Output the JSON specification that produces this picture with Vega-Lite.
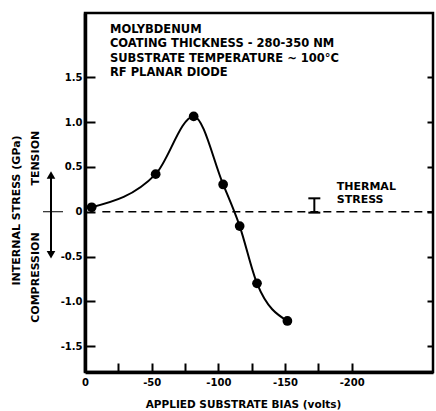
{
  "$schema": "https://vega.github.io/schema/vega-lite/v6.json",
  "width": 348,
  "height": 359,
  "autosize": "none",
  "padding": {"left": 85, "top": 13, "right": 3, "bottom": 39},
  "background": "white",
  "config": {
    "font": "DejaVu Sans",
    "view": {"stroke": "black", "strokeWidth": 2.5},
    "axis": {
      "labelFont": "DejaVu Sans",
      "labelFontWeight": "bold",
      "labelColor": "black",
      "titleFont": "DejaVu Sans",
      "titleFontWeight": "bold",
      "titleColor": "black",
      "grid": false,
      "domainColor": "black",
      "tickColor": "black"
    }
  },
  "datasets": {
    "measured": [
      {"bias": -5, "stress": 0.05},
      {"bias": -53, "stress": 0.42},
      {"bias": -81.5, "stress": 1.065},
      {"bias": -103.6, "stress": 0.305},
      {"bias": -116, "stress": -0.16},
      {"bias": -129, "stress": -0.8},
      {"bias": -151.8, "stress": -1.22}
    ],
    "zero": [{"bias": -13, "bias2": -261, "stress": 0}],
    "thermal": [{"bias": -172, "stress": 0.15, "stress2": -0.01}],
    "thermalEnds": [{"bias": -172, "stress": 0.15}, {"bias": -172, "stress": -0.01}],
    "notes": [
      {"bias": -18.7, "stress": 1.993, "label": "MOLYBDENUM"},
      {"bias": -18.7, "stress": 1.837, "label": "COATING THICKNESS - 280-350 NM"},
      {"bias": -18.7, "stress": 1.67, "label": "SUBSTRATE TEMPERATURE ~ 100°C"},
      {"bias": -18.7, "stress": 1.513, "label": "RF PLANAR DIODE"}
    ],
    "thermalText": [
      {"bias": -188.8, "stress": 0.241, "label": "THERMAL"},
      {"bias": -188.8, "stress": 0.096, "label": "STRESS"}
    ],
    "sideText": [
      {"bias": 36.7, "stress": 0.598, "label": "TENSION"},
      {"bias": 36.7, "stress": -0.735, "label": "COMPRESSION"}
    ],
    "arrow": [{"bias": 25.5, "stress": 0.4, "stress2": -0.47}],
    "arrowTop": [{"bias": 25.5, "stress": 0.41}],
    "arrowBottom": [{"bias": 25.5, "stress": -0.48}],
    "crossbar": [{"bias": 31.5, "bias2": 16.5, "stress": 0}]
  },
  "resolve": {"axis": {"y": "independent"}},
  "layer": [
    {
      "data": {"name": "measured"},
      "mark": {"type": "line", "interpolate": "monotone", "color": "black", "strokeWidth": 2},
      "encoding": {
        "x": {
          "field": "bias", "type": "quantitative",
          "scale": {"domain": [0, -261], "nice": false, "zero": false},
          "axis": {
            "values": [0, -25, -50, -75, -100, -125, -150, -175, -200],
            "tickSize": -9, "tickWidth": 2, "labelPadding": 14,
            "labelExpr": "datum.value % 50 === 0 ? ('' + datum.value) : ''",
            "labelFontSize": 10, "labelFlush": false,
            "domainWidth": 3.5,
            "title": "APPLIED SUBSTRATE BIAS (volts)",
            "titleFontSize": 10.5, "titleX": 158, "titleY": 27,
            "titleBaseline": "top", "titleAlign": "center"
          }
        },
        "y": {
          "field": "stress", "type": "quantitative",
          "scale": {"domain": [-1.79, 2.22], "nice": false, "zero": false},
          "axis": {
            "orient": "left",
            "values": [-1.5, -1, -0.5, 0, 0.5, 1, 1.5],
            "tickSize": -10, "tickWidth": 2, "labelPadding": 13,
            "labelExpr": "datum.value === 0 ? '0' : ((datum.value < 0 ? '-' : '') + format(abs(datum.value), '.1f'))",
            "labelFontSize": 10, "labelFlush": false,
            "domainWidth": 3.5,
            "title": "INTERNAL STRESS (GPa)",
            "titleFontSize": 11, "titleX": -69, "titleY": 197,
            "titleAngle": 270, "titleAlign": "center", "titleBaseline": "middle"
          }
        }
      }
    },
    {
      "data": {"name": "measured"},
      "mark": {"type": "circle", "size": 95, "color": "black", "opacity": 1},
      "encoding": {
        "x": {"field": "bias", "type": "quantitative"},
        "y": {
          "field": "stress", "type": "quantitative",
          "axis": {
            "orient": "right",
            "values": [-1.5, -1, -0.5, 0, 0.5, 1, 1.5],
            "tickSize": -6, "tickWidth": 2, "labels": false, "domain": false, "title": null
          }
        }
      }
    },
    {
      "data": {"name": "zero"},
      "mark": {"type": "rule", "color": "black", "strokeWidth": 1.6, "strokeDash": [8, 5]},
      "encoding": {
        "x": {"field": "bias", "type": "quantitative"},
        "x2": {"field": "bias2"},
        "y": {"field": "stress", "type": "quantitative", "axis": null}
      }
    },
    {
      "data": {"name": "thermal"},
      "mark": {"type": "rule", "color": "black", "strokeWidth": 2},
      "encoding": {
        "x": {"field": "bias", "type": "quantitative"},
        "y": {"field": "stress", "type": "quantitative", "axis": null},
        "y2": {"field": "stress2"}
      }
    },
    {
      "data": {"name": "thermalEnds"},
      "mark": {"type": "tick", "orient": "horizontal", "color": "black", "size": 12, "thickness": 2, "opacity": 1},
      "encoding": {
        "x": {"field": "bias", "type": "quantitative"},
        "y": {"field": "stress", "type": "quantitative", "axis": null}
      }
    },
    {
      "data": {"name": "notes"},
      "mark": {"type": "text", "align": "left", "baseline": "alphabetic", "fontSize": 11.5, "fontWeight": "bold", "color": "black", "font": "DejaVu Sans"},
      "encoding": {
        "x": {"field": "bias", "type": "quantitative"},
        "y": {"field": "stress", "type": "quantitative", "axis": null},
        "text": {"field": "label"}
      }
    },
    {
      "data": {"name": "thermalText"},
      "mark": {"type": "text", "align": "left", "baseline": "alphabetic", "fontSize": 11, "fontWeight": "bold", "color": "black", "font": "DejaVu Sans"},
      "encoding": {
        "x": {"field": "bias", "type": "quantitative"},
        "y": {"field": "stress", "type": "quantitative", "axis": null},
        "text": {"field": "label"}
      }
    },
    {
      "data": {"name": "sideText"},
      "mark": {"type": "text", "align": "center", "baseline": "middle", "angle": 270, "fontSize": 11, "fontWeight": "bold", "color": "black", "font": "DejaVu Sans"},
      "encoding": {
        "x": {"field": "bias", "type": "quantitative"},
        "y": {"field": "stress", "type": "quantitative", "axis": null},
        "text": {"field": "label"}
      }
    },
    {
      "data": {"name": "arrow"},
      "mark": {"type": "rule", "color": "black", "strokeWidth": 2},
      "encoding": {
        "x": {"field": "bias", "type": "quantitative"},
        "y": {"field": "stress", "type": "quantitative", "axis": null},
        "y2": {"field": "stress2"}
      }
    },
    {
      "data": {"name": "arrowTop"},
      "mark": {"type": "point", "shape": "triangle-up", "filled": true, "size": 75, "color": "black", "opacity": 1},
      "encoding": {
        "x": {"field": "bias", "type": "quantitative"},
        "y": {"field": "stress", "type": "quantitative", "axis": null}
      }
    },
    {
      "data": {"name": "arrowBottom"},
      "mark": {"type": "point", "shape": "triangle-down", "filled": true, "size": 75, "color": "black", "opacity": 1},
      "encoding": {
        "x": {"field": "bias", "type": "quantitative"},
        "y": {"field": "stress", "type": "quantitative", "axis": null}
      }
    },
    {
      "data": {"name": "crossbar"},
      "mark": {"type": "rule", "color": "black", "strokeWidth": 1},
      "encoding": {
        "x": {"field": "bias", "type": "quantitative"},
        "x2": {"field": "bias2"},
        "y": {"field": "stress", "type": "quantitative", "axis": null}
      }
    }
  ]
}
